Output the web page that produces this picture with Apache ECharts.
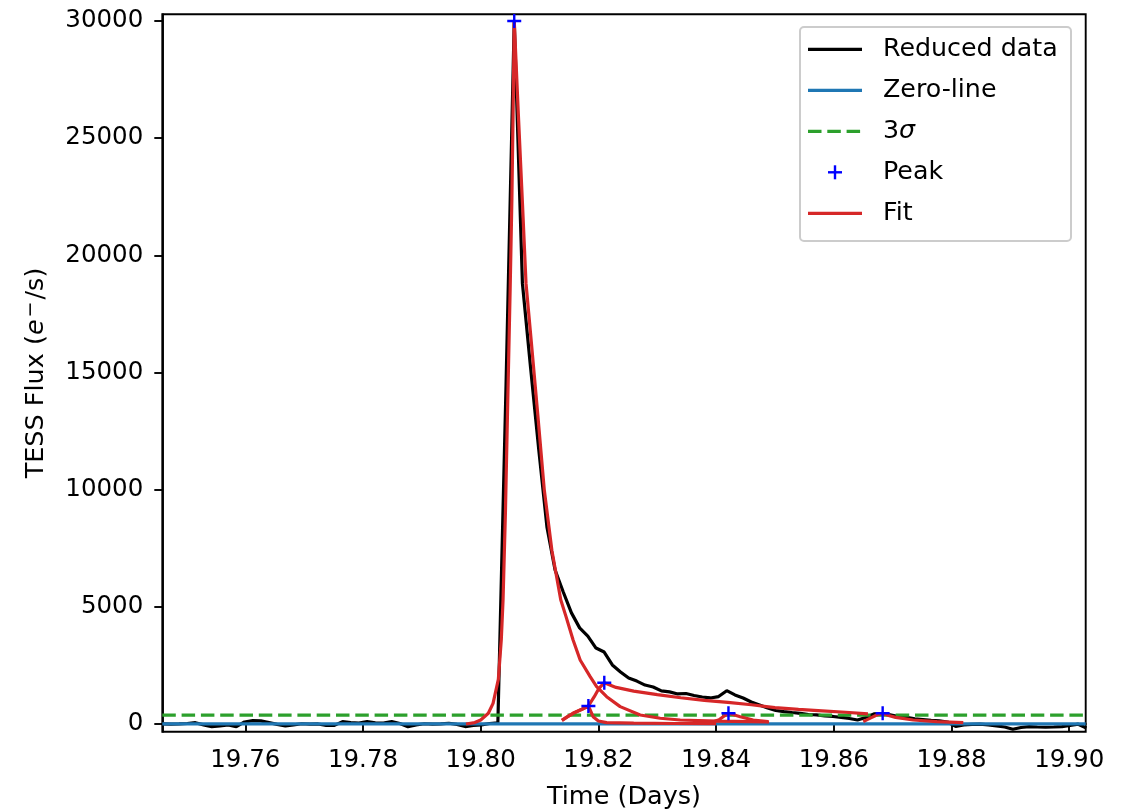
<!DOCTYPE html>
<html><head><meta charset="utf-8">
<script src="https://cdn.jsdelivr.net/npm/echarts@6/dist/echarts.min.js"></script>
<style>html,body{margin:0;padding:0;background:#fff}#c{width:1132px;height:811px}</style>
</head><body><div id="c"></div>
<script>
// ---- data ----
const times = [
19.74598,19.74737,19.74876,19.75014,19.75153,19.75292,19.75431,19.75570,19.75709,19.75848,
19.75987,19.76126,19.76264,19.76403,19.76542,19.76681,19.76820,19.76959,19.77098,19.77237,
19.77376,19.77514,19.77653,19.77792,19.77931,19.78070,19.78209,19.78348,19.78487,19.78626,
19.78764,19.78903,19.79042,19.79181,19.79320,19.79459,19.79598,19.79737,19.79876,19.80014,
19.80153,19.80292,19.80431,19.80570,19.80709,19.80848,19.80987,19.81126,19.81264,19.81403,
19.81542,19.81681,19.81820,19.81959,19.82098,19.82237,19.82376,19.82514,19.82653,19.82792,
19.82931,19.83070,19.83209,19.83348,19.83487,19.83626,19.83764,19.83903,19.84042,19.84181,
19.84320,19.84459,19.84598,19.84737,19.84876,19.85014,19.85153,19.85292,19.85431,19.85570,
19.85709,19.85848,19.85987,19.86126,19.86264,19.86403,19.86542,19.86681,19.86820,19.86959,
19.87098,19.87237,19.87376,19.87514,19.87653,19.87792,19.87931,19.88070,19.88209,19.88348,
19.88487,19.88626,19.88764,19.88903,19.89042,19.89181,19.89320,19.89459,19.89598,19.89737,
19.89876,19.90014,19.90153,19.90292];
const flux = [
5,-10,0,20,55,-40,-115,-85,-45,-115,
85,140,130,55,-20,-85,-40,10,-5,0,
-60,-60,100,60,40,100,45,40,100,20,
-115,-40,10,-10,0,30,-20,-110,-60,-40,
20,50,14500,30000,18800,15200,11700,8400,6570,5630,
4740,4100,3750,3240,3070,2520,2220,1960,1830,1660,
1580,1410,1370,1280,1300,1215,1150,1110,1170,1420,
1240,1110,940,810,680,575,530,490,455,405,
385,340,320,280,235,170,280,430,440,385,
320,280,215,190,150,130,85,-105,-40,-20,
-10,-40,-85,-130,-225,-150,-115,-130,-140,-130,
-115,-65,-10,-170];
const zeroLevel = 0;
const threeSigma = 380;
const peakTimes = [19.8057, 19.8183, 19.8210, 19.8421, 19.8683];
const peakFlux  = [30000, 768, 1762, 456, 456];
const fit1 = [[19.7975,0],[19.7990,60],[19.8000,170],[19.8013,456],[19.8021,880],[19.8030,1900],
  [19.8035,3600],[19.8038,5300],[19.8042,9000],[19.8046,13800],[19.8050,18500],[19.8053,22400],
  [19.8055,26000],[19.8057,30000],[19.8064,26000],[19.8071,22200],[19.8077,18800],[19.8086,16300],
  [19.8097,13200],[19.8108,10000],[19.8121,7400],[19.8136,5300],[19.8145,4580],[19.8157,3580],
  [19.8169,2730],[19.8186,2020],[19.8197,1590],[19.8214,1165],[19.8237,740],[19.8271,384],
  [19.8305,243],[19.8339,170],[19.8400,120],[19.8490,90]];
const fit2 = [[19.8138,150],[19.8147,300],[19.8157,456],[19.8172,627],[19.8183,768],[19.8191,311],
  [19.8200,128],[19.8214,60],[19.8260,35],[19.8330,20],[19.8400,15]];
const fit3 = [[19.8138,150],[19.8147,300],[19.8157,456],[19.8172,627],[19.8183,768],[19.8193,1165],
  [19.8201,1523],[19.8210,1762],[19.8230,1560],[19.8260,1400],[19.8300,1250],[19.8340,1120],
  [19.8380,1010],[19.8420,920],[19.8460,820],[19.8500,700],[19.8540,620],[19.8580,560],
  [19.8620,500],[19.8658,430]];
const fit4 = [[19.8395,98],[19.8405,180],[19.8412,311],[19.8421,456],[19.8430,390],[19.8441,311],
  [19.8463,170],[19.8488,98]];
const fit5 = [[19.8650,98],[19.8662,250],[19.8673,380],[19.8683,456],[19.8693,360],[19.8705,280],
  [19.8735,170],[19.8775,98],[19.8820,55]];
const xTicks = [19.76,19.78,19.80,19.82,19.84,19.86,19.88,19.90];
const yTicks = [0,5000,10000,15000,20000,25000,30000];
const xRange = [19.7459, 19.9028];
const yRange = [-330, 30283];
const legendLabels = ['Reduced data','Zero-line','3σ','Peak','Fit'];

// ---- chart ----
const FONT = 'DejaVu Sans';
const TICK_FS = 24.5, LEG_FS = 25.3, NAME_FS = 25.5;
const chart = echarts.init(document.getElementById('c'), null, {renderer:'canvas'});
const dataPairs = times.map((t,i)=>[t, flux[i]]);
const plusPath = 'path://M0,5.8L14,5.8L14,8.2L0,8.2Z M5.8,0L8.2,0L8.2,14L5.8,14Z';
const LW = 3.2;
function fitSeries(d){
  return {type:'line', data:d, showSymbol:false, symbol:'none', z:5,
    lineStyle:{color:'#d62728', width:LW}, itemStyle:{color:'#d62728'}, animation:false};
}
const lx0 = 808, lx1 = 862, ltx = 883, rows = [49.3, 90.3, 131.3, 172.3, 213.3];
const pcx = (lx0+lx1)/2;
const lfont = LEG_FS + 'px ' + FONT;
const legendGraphic = [
  {type:'rect', shape:{x:800, y:27, width:271, height:214, r:4}, style:{fill:'rgba(255,255,255,0.8)', stroke:'#cccccc', lineWidth:2}, z:100},
  {type:'line', shape:{x1:lx0,y1:rows[0],x2:lx1,y2:rows[0]}, style:{stroke:'#000', lineWidth:LW}, z:101},
  {type:'line', shape:{x1:lx0,y1:rows[1],x2:lx1,y2:rows[1]}, style:{stroke:'#1f77b4', lineWidth:LW}, z:101},
  {type:'line', shape:{x1:lx0,y1:rows[2],x2:lx1,y2:rows[2]}, style:{stroke:'#2ca02c', lineWidth:LW, lineDash:[13.5,5.8]}, z:101},
  {type:'rect', shape:{x:pcx-7, y:rows[3]-1.2, width:14, height:2.4}, style:{fill:'#0000ff'}, z:101},
  {type:'rect', shape:{x:pcx-1.2, y:rows[3]-7, width:2.4, height:14}, style:{fill:'#0000ff'}, z:101},
  {type:'line', shape:{x1:lx0,y1:rows[4],x2:lx1,y2:rows[4]}, style:{stroke:'#d62728', lineWidth:LW}, z:101},
  {type:'text', x:ltx, y:rows[0], style:{text:legendLabels[0], font:lfont, fill:'#000', verticalAlign:'middle'}, z:101},
  {type:'text', x:ltx, y:rows[1], style:{text:legendLabels[1], font:lfont, fill:'#000', verticalAlign:'middle'}, z:101},
  {type:'text', x:ltx, y:rows[2], style:{text:'3{s|σ}', font:lfont, fill:'#000', verticalAlign:'middle',
      rich:{s:{fontStyle:'italic', fontSize:LEG_FS, fontFamily:FONT}}}, z:101},
  {type:'text', x:ltx, y:rows[3], style:{text:legendLabels[3], font:lfont, fill:'#000', verticalAlign:'middle'}, z:101},
  {type:'text', x:ltx, y:rows[4], style:{text:legendLabels[4], font:lfont, fill:'#000', verticalAlign:'middle'}, z:101}
];
const axisCommon = {
  axisLine:{show:true, lineStyle:{color:'#000', width:1.9}},
  splitLine:{show:false},
};
const option = {
  animation:false,
  textStyle:{fontFamily:FONT},
  grid:{left:162.3, right:46.3, top:14.3, bottom:79.3, show:true, borderColor:'#000', borderWidth:1.9,
        backgroundColor:'#fff', containLabel:false, outerBoundsMode:'none'},
  xAxis:Object.assign({}, axisCommon, {
    type:'value', min:xRange[0], max:xRange[1],
    axisTick:{show:true, inside:false, length:8, lineStyle:{color:'#000', width:1.9}, customValues:xTicks},
    axisLabel:{show:true, customValues:xTicks, formatter:v=>v.toFixed(2), fontSize:TICK_FS, color:'#000', fontFamily:FONT, margin:16},
    name:'Time (Days)', nameLocation:'middle', nameGap:53,
    nameTextStyle:{fontSize:NAME_FS, color:'#000', fontFamily:FONT}
  }),
  yAxis:Object.assign({}, axisCommon, {
    type:'value', min:yRange[0], max:yRange[1],
    axisTick:{show:true, inside:false, length:8, lineStyle:{color:'#000', width:1.9}, customValues:yTicks},
    axisLabel:{show:true, customValues:yTicks, formatter:v=>String(v), fontSize:TICK_FS, color:'#000', fontFamily:FONT, margin:19},
    name:'TESS Flux ({it|e}{sup|−}/s)', nameLocation:'middle', nameGap:110, nameRotate:90,
    nameTextStyle:{fontSize:NAME_FS, color:'#000', fontFamily:FONT,
      rich:{it:{fontStyle:'italic', fontSize:NAME_FS, fontFamily:FONT, padding:[0,2,0,0]},
            sup:{fontSize:19, fontFamily:FONT, padding:[0,2,12,0]}}}
  }),
  series:[
    {type:'line', name:'Reduced data', data:dataPairs, showSymbol:false, symbol:'none', z:2,
     lineStyle:{color:'#000', width:LW}, itemStyle:{color:'#000'}},
    {type:'line', name:'Zero-line', data:[[xRange[0],zeroLevel],[xRange[1],zeroLevel]], showSymbol:false, symbol:'none', z:3,
     lineStyle:{color:'#1f77b4', width:LW}, itemStyle:{color:'#1f77b4'}},
    {type:'line', name:'3σ', data:[[xRange[0],threeSigma],[xRange[1],threeSigma]], showSymbol:false, symbol:'none', z:4,
     lineStyle:{color:'#2ca02c', width:LW, type:[13.5,5.8]}, itemStyle:{color:'#2ca02c'}},
    fitSeries(fit1), fitSeries(fit2), fitSeries(fit3), fitSeries(fit4), fitSeries(fit5),
    {type:'scatter', name:'Peak', data:peakTimes.map((t,i)=>[t,peakFlux[i]]), symbol:plusPath, symbolSize:14, z:6,
     itemStyle:{color:'#0000ff', opacity:1}}
  ],
  graphic:legendGraphic
};
chart.setOption(option);
</script></body></html>
